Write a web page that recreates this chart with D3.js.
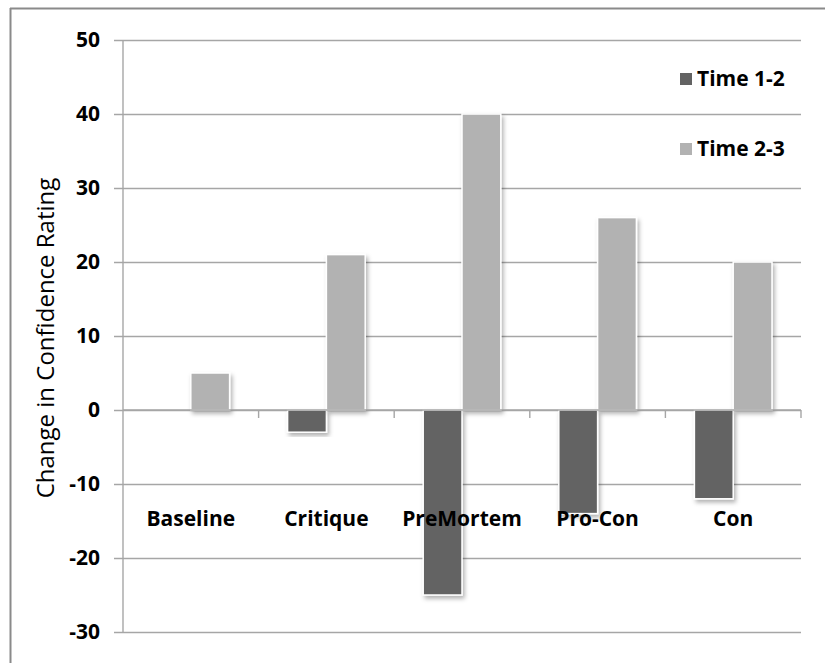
<!DOCTYPE html>
<html>
<head>
<meta charset="utf-8">
<script src="https://cdn.jsdelivr.net/npm/d3@7/dist/d3.min.js"></script>
<style>
  html, body { margin: 0; padding: 0; background: #fff; }
  svg { display: block; }
</style>
</head>
<body>
<script>
// Change in confidence rating per condition, two time intervals
const categories = ["Baseline", "Critique", "PreMortem", "Pro-Con", "Con"];
const seriesNames = ["Time 1-2", "Time 2-3"];
const time12 = [0, -3, -25, -14, -12];
const time23 = [5, 21, 40, 26, 20];
const yTicks = [-30, -20, -10, 0, 10, 20, 30, 40, 50];
const seriesColors = ["#636363", "#b2b2b2"];

const W = 825, H = 663;
const plot = { left: 123, right: 801, top: 40, bottom: 632 };
const font = "'Open Sans', sans-serif";
const fmt = d => String(d);   // plain hyphen for negatives

const svg = d3.select("body").append("svg")
  .attr("width", W).attr("height", H);

const defs = svg.append("defs");
const f = defs.append("filter").attr("id", "shadow")
  .attr("x", "-30%").attr("y", "-10%").attr("width", "160%").attr("height", "130%");
f.append("feDropShadow").attr("dx", 2).attr("dy", 3)
  .attr("stdDeviation", 2).attr("flood-color", "#000").attr("flood-opacity", 0.3);

// frame
svg.append("line").attr("x1", 10).attr("x2", W).attr("y1", 8.5).attr("y2", 8.5)
  .attr("stroke", "#8a8a8a").attr("stroke-width", 2);
svg.append("line").attr("x1", 10.5).attr("x2", 10.5).attr("y1", 8).attr("y2", H)
  .attr("stroke", "#8a8a8a").attr("stroke-width", 2);

const y = d3.scaleLinear().domain([-30, 50]).range([plot.bottom, plot.top]);
const x0 = d3.scaleBand().domain(categories).range([plot.left, plot.right]).padding(0);
const groupPad = 29;
const x1 = d3.scaleBand().domain(seriesNames)
  .range([groupPad, x0.bandwidth() - groupPad]).padding(0);

// gridlines
const yg = svg.append("g").attr("transform", `translate(${plot.right},0)`);
yg.call(d3.axisLeft(y).tickValues(yTicks).tickSize(plot.right - plot.left + 9).tickFormat(""));
yg.select(".domain").remove();
yg.selectAll(".tick line").attr("stroke", "#a6a6a6").attr("stroke-width", 1.4);

// y tick labels
const yl = svg.append("g").attr("transform", `translate(${plot.left - 9},0)`);
yl.call(d3.axisLeft(y).tickValues(yTicks).tickSize(0).tickPadding(14).tickFormat(fmt));
yl.select(".domain").remove();
yl.selectAll(".tick text")
  .attr("font-family", font).attr("font-weight", 700).attr("font-size", 21)
  .attr("fill", "#000");

// vertical axis line
svg.append("line").attr("x1", plot.left).attr("x2", plot.left)
  .attr("y1", plot.top).attr("y2", plot.bottom)
  .attr("stroke", "#a6a6a6").attr("stroke-width", 1.4);

// bars
const rows = categories.map((c, i) => ({ cat: c, vals: [time12[i], time23[i]] }));
const groups = svg.append("g").selectAll("g").data(rows).join("g")
  .attr("transform", d => `translate(${x0(d.cat)},0)`);
groups.selectAll("rect")
  .data(d => d.vals.map((v, j) => ({ v, s: seriesNames[j], j })).filter(e => e.v !== 0))
  .join("rect")
  .attr("x", d => x1(d.s))
  .attr("width", x1.bandwidth())
  .attr("y", d => y(Math.max(0, d.v)))
  .attr("height", d => Math.abs(y(d.v) - y(0)))
  .attr("fill", d => seriesColors[d.j])
  .attr("stroke", "#fff").attr("stroke-width", 1.5)
  .attr("filter", "url(#shadow)");

// category axis at zero
const xa = svg.append("g");
xa.append("line").attr("x1", plot.left).attr("x2", plot.right)
  .attr("y1", y(0)).attr("y2", y(0))
  .attr("stroke", "#a6a6a6").attr("stroke-width", 1.4);
const bounds = categories.map(c => x0(c) + x0.bandwidth());
xa.selectAll("line.tk").data(bounds).join("line").attr("class", "tk")
  .attr("x1", d => d).attr("x2", d => d)
  .attr("y1", y(0)).attr("y2", y(0) + 8)
  .attr("stroke", "#a6a6a6").attr("stroke-width", 1.4);
xa.selectAll("text").data(categories).join("text")
  .attr("x", d => x0(d) + x0.bandwidth() / 2)
  .attr("y", 526)
  .attr("text-anchor", "middle")
  .attr("font-family", font).attr("font-weight", 700).attr("font-size", 21)
  .attr("fill", "#000")
  .text(d => d);

// y axis title
svg.append("text")
  .attr("transform", `translate(54,${(plot.top + plot.bottom) / 2 + 2}) rotate(-90)`)
  .attr("text-anchor", "middle")
  .attr("font-family", font).attr("font-size", 24)
  .attr("fill", "#000")
  .text("Change in Confidence Rating");

// legend
const legend = svg.append("g");
const legBase = [86, 156];
seriesNames.forEach((s, i) => {
  legend.append("rect").attr("x", 680).attr("y", legBase[i] - 13)
    .attr("width", 12).attr("height", 12).attr("fill", seriesColors[i]);
  legend.append("text").attr("x", 697).attr("y", legBase[i])
    .attr("font-family", font).attr("font-weight", 700).attr("font-size", 21)
    .attr("fill", "#000").text(s);
});
</script>
</body>
</html>
